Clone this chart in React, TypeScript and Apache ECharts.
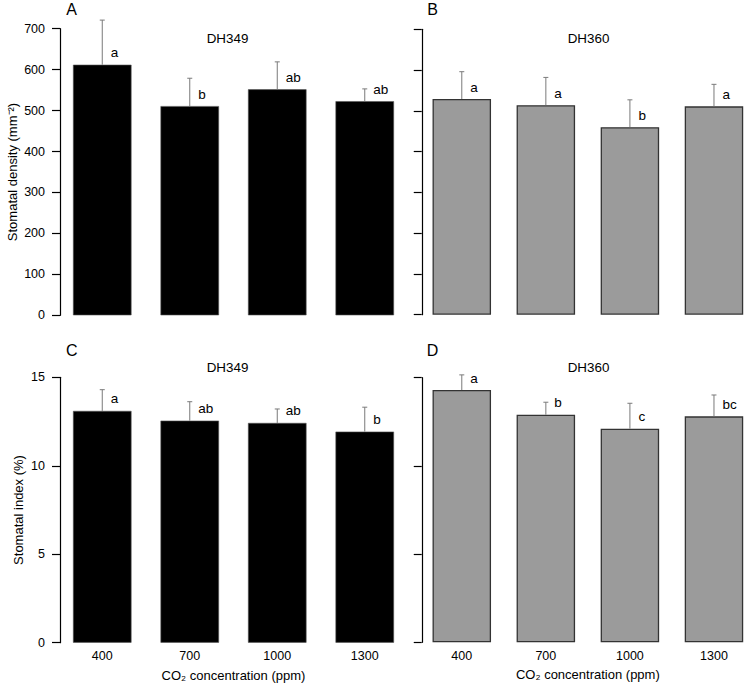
import React, { useEffect, useRef } from "react";
import * as echarts from "echarts";

const categories = ["400", "700", "1000", "1300"];

const densityDH349 = [612, 511, 552, 523];
const densityDH349Err = [109, 68, 67, 30];
const densityDH349Letters = ["a", "b", "ab", "ab"];

const densityDH360 = [529, 514, 460, 511];
const densityDH360Err = [67, 68, 67, 54];
const densityDH360Letters = ["a", "a", "b", "a"];

const indexDH349 = [13.1, 12.55, 12.42, 11.93];
const indexDH349Err = [1.2, 1.07, 0.79, 1.38];
const indexDH349Letters = ["a", "ab", "ab", "b"];

const indexDH360 = [14.3, 12.9, 12.11, 12.81];
const indexDH360Err = [0.86, 0.71, 1.44, 1.21];
const indexDH360Letters = ["a", "b", "c", "bc"];

const FONT = "'Liberation Sans', Arial, Helvetica, sans-serif";

export default function App() {
  const ref = useRef<HTMLDivElement>(null);

  useEffect(() => {
    if (!ref.current) return;
    const chart = echarts.init(ref.current, null, { renderer: "svg" });

    const grids = [
      { left: 58.5, top: 28.7, width: 350, height: 286.6 },
      { left: 419.75, top: 29.3, width: 350, height: 285.4 },
      { left: 58.5, top: 377.3, width: 350, height: 265.4 },
      { left: 419.75, top: 377.7, width: 350, height: 264.6 },
    ];

    const xAxes = grids.map((_, g) => ({
      type: "category",
      gridIndex: g,
      data: categories,
      axisLine: { show: false },
      axisTick: { show: false },
      axisLabel: {
        show: g >= 2,
        fontSize: 12.5,
        color: "#000",
        margin: 7,
        fontFamily: FONT,
      },
      name: g >= 2 ? "CO\u2082 concentration (ppm)" : "",
      nameLocation: "middle",
      nameGap: 26,
      nameTextStyle: { fontSize: 13, color: "#000", fontFamily: FONT },
    }));

    const yAxes = grids.map((_, g) => {
      const isDensity = g < 2;
      const isLeft = g % 2 === 0;
      return {
        type: "value",
        gridIndex: g,
        min: 0,
        max: isDensity ? 700 : 15,
        interval: isDensity ? 100 : 5,
        offset: isLeft ? -1.5 : -2,
        axisLine: { show: true, lineStyle: { color: "#000", width: 1.2 } },
        axisTick: { show: true, inside: false, length: 8, lineStyle: { color: "#000", width: 1.2 } },
        splitLine: { show: false },
        axisLabel: {
          show: isLeft,
          fontSize: 12.5,
          color: "#000",
          margin: 15,
          fontFamily: FONT,
        },
        name: isLeft ? (isDensity ? "Stomatal density (mm\u207B\u00B2)" : "Stomatal index (%)") : "",
        nameLocation: "middle",
        nameRotate: 90,
        nameGap: isDensity ? 41 : 35,
        nameTextStyle: { fontSize: 13, color: "#000", fontFamily: FONT },
      };
    });

    const barSeries = (g: number, values: number[], dark: boolean) => ({
      type: "bar",
      xAxisIndex: g,
      yAxisIndex: g,
      data: values,
      barWidth: 58.5,
      itemStyle: dark
        ? { color: "#000", borderColor: "#555", borderWidth: 0.6 }
        : { color: "#9b9b9b", borderColor: "#333", borderWidth: 1.3 },
      z: 2,
    });

    const errSeries = (g: number, means: number[], errs: number[], letters: string[]) => ({
      type: "custom",
      xAxisIndex: g,
      yAxisIndex: g,
      clip: false,
      z: 3,
      data: means.map((m, i) => [i, m, m + errs[i]]),
      renderItem: (params: any, api: any) => {
        const i = api.value(0);
        const base = api.coord([i, api.value(1)]);
        const top = api.coord([i, api.value(2)]);
        const letter = letters[params.dataIndex];
        return {
          type: "group",
          children: [
            {
              type: "line",
              shape: { x1: base[0], y1: base[1], x2: base[0], y2: top[1] },
              style: { stroke: "#7a7a7a", lineWidth: 1 },
            },
            {
              type: "line",
              shape: { x1: base[0] - 2.5, y1: top[1], x2: base[0] + 2.5, y2: top[1] },
              style: { stroke: "#7a7a7a", lineWidth: 1 },
            },
            {
              type: "text",
              x: base[0] + 8.5,
              y: base[1] - 12,
              style: {
                text: letter,
                fontSize: 13.5,
                fill: "#000",
                align: "left",
                verticalAlign: "middle",
                fontFamily: FONT,
              },
            },
          ],
        };
      },
    });

    const txt = (x: number, y: number, text: string, size: number) => ({
      type: "text",
      x,
      y,
      style: {
        text,
        fontSize: size,
        fill: "#000",
        align: "center",
        verticalAlign: "middle",
        fontFamily: FONT,
      },
    });

    chart.setOption({
      animation: false,
      backgroundColor: "#fff",
      grid: grids,
      xAxis: xAxes,
      yAxis: yAxes,
      series: [
        barSeries(0, densityDH349, true),
        barSeries(1, densityDH360, false),
        barSeries(2, indexDH349, true),
        barSeries(3, indexDH360, false),
        errSeries(0, densityDH349, densityDH349Err, densityDH349Letters),
        errSeries(1, densityDH360, densityDH360Err, densityDH360Letters),
        errSeries(2, indexDH349, indexDH349Err, indexDH349Letters),
        errSeries(3, indexDH360, indexDH360Err, indexDH360Letters),
      ],
      graphic: [
        txt(71.7, 9.5, "A", 16),
        txt(432.5, 9.5, "B", 16),
        txt(71.7, 350, "C", 16),
        txt(432.5, 350, "D", 16),
        txt(227.5, 38.8, "DH349", 13.4),
        txt(588.5, 38.8, "DH360", 13.4),
        txt(227.5, 367.3, "DH349", 13.4),
        txt(588.5, 367.3, "DH360", 13.4),
      ],
    });

    return () => chart.dispose();
  }, []);

  return (
    <div
      ref={ref}
      style={{ position: "fixed", left: 0, top: 0, width: 756, height: 687 }}
    />
  );
}
